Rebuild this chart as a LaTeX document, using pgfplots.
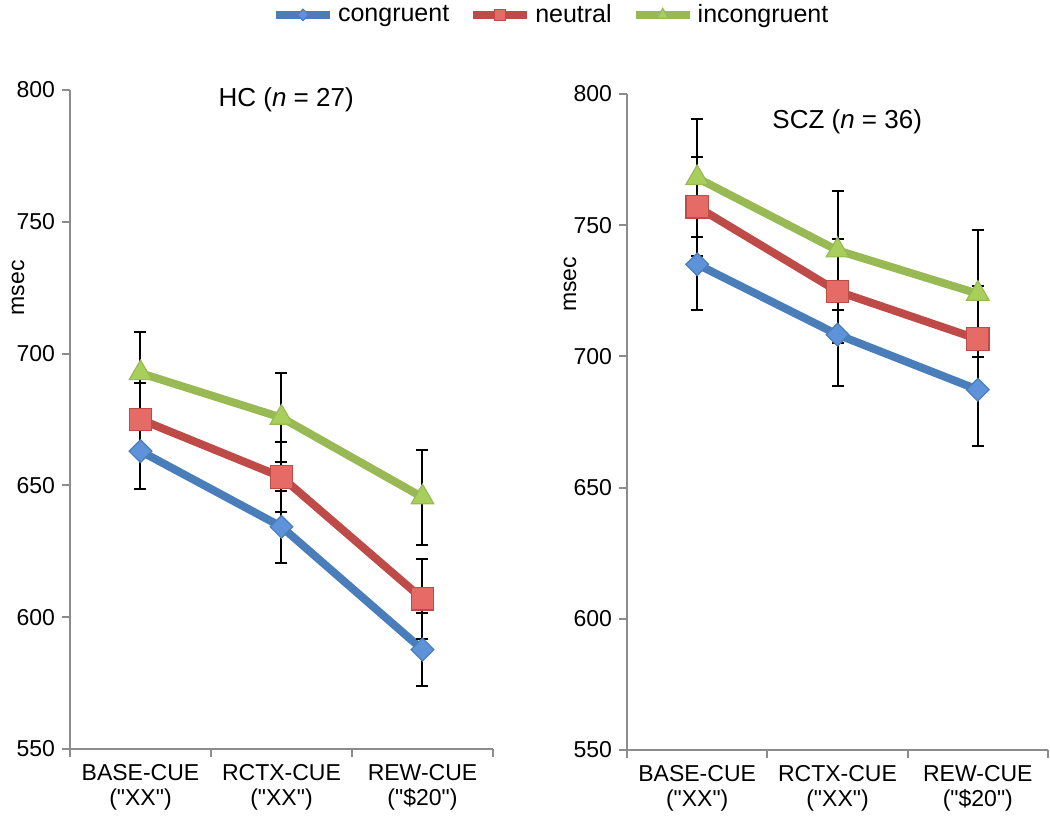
\documentclass[border=0pt]{standalone}
\usepackage{fontspec}
\setmainfont{Liberation Sans}
\usepackage{pgfplots}
\usepackage{pgfplotstable}
\pgfplotsset{compat=1.18}
\definecolor{cblueL}{HTML}{4A7EBB}
\definecolor{cblueF}{HTML}{5E93D9}
\definecolor{credL}{HTML}{BE4B48}
\definecolor{credF}{HTML}{E66B67}
\definecolor{cgreenL}{HTML}{98B954}
\definecolor{cgreenF}{HTML}{A8CF5C}
\definecolor{axgray}{HTML}{8C8C8C}

\pgfplotstableread{
x y e
0 663.0 14.4
1 634.3 13.7
2 587.7 13.8
}\hcCon
\pgfplotstableread{
x y e
0 675.0 14.0
1 653.2 13.4
2 607.0 15.2
}\hcNeu
\pgfplotstableread{
x y e
0 692.6 15.5
1 675.7 17.0
2 645.5 18.0
}\hcInc
\pgfplotstableread{
x y e
0 735.1 17.5
1 708.3 19.4
2 687.3 21.4
}\szCon
\pgfplotstableread{
x y e
0 757.0 18.8
1 724.8 19.8
2 706.6 20.4
}\szNeu
\pgfplotstableread{
x y e
0 768.0 22.5
1 740.4 22.7
2 723.9 24.1
}\szInc

\pgfplotsset{
  panel/.style={
    scale only axis,
    xmin=-0.5, xmax=2.5, ymin=550, ymax=800,
    ytick={550,600,...,800},
    xtick={0,1,2},
    xticklabels={{BASE-CUE\\(\textquotedbl XX\textquotedbl)},{RCTX-CUE\\(\textquotedbl XX\textquotedbl)},{REW-CUE\\(\textquotedbl\$20\textquotedbl)}},
    minor xtick={-0.5,0.5,1.5,2.5},
    axis x line*=bottom, axis y line*=left,
    axis line style={draw=axgray, line width=1pt, -},
    tick align=outside,
    major tick length=4pt, minor tick length=4pt,
    xtick style={draw=none},
    minor x tick style={draw=axgray, line width=1pt},
    ytick style={draw=axgray, line width=1pt},
    /pgf/number format/assume math mode=true,
    yticklabel style={font=\fontsize{11.5}{13}\selectfont},
    xticklabel style={align=center, font=\fontsize{11.5}{12.5}\selectfont},
    ylabel={msec},
    ylabel style={font=\fontsize{11.5}{13}\selectfont, anchor=center},
    every axis title shift=0pt,
    title style={anchor=center, yshift=0pt, font=\fontsize{13}{15}\selectfont},
    clip=false,
    error bars/y dir=both, error bars/y explicit,
    error bars/error bar style={black, line width=1pt, solid},
    error bars/error mark options={black, line width=1pt, mark size=3pt, rotate=90},
    legend image code/.code={
      \draw[#1, every mark/.append style={scale=0.5}, mark repeat=2, mark phase=2]
        plot coordinates {(0pt,0pt) (13.5pt,0pt) (27pt,0pt)};
    },
  },
  con/.style={color=cblueL, line width=4pt, mark=square*, mark size=4pt,
    mark options={rotate=45, fill=cblueF, draw=cblueL, line width=0.6pt, solid}},
  neu/.style={color=credL, line width=4pt, mark=square*, mark size=5.6pt,
    mark options={fill=credF, draw=credL, line width=0.6pt, solid}},
  inc/.style={color=cgreenL, line width=4pt, mark=triangle*, mark size=6.5pt,
    mark options={fill=cgreenF, draw=cgreenL, line width=0.6pt, solid}},
}

\begin{document}
\begin{tikzpicture}
\useasboundingbox (0,0) rectangle (525pt,409.5pt);
\begin{axis}[panel,
  at={(35pt,35pt)}, anchor=south west,
  width=211.5pt, height=329.5pt,
  title={HC (\textit{n} = 27)},
  title style={at={(0.511,0.985)}},
  ylabel style={at={(-0.123,0.70)}},
  legend style={at={(1.14,1.114)}, anchor=center, draw=none, fill=none,
    legend columns=3, font=\fontsize{12.5}{14}\selectfont,
    /tikz/every even column/.append style={column sep=8pt}},
]
\addplot[con] table[x=x,y=y,y error=e] {\hcCon};
\addlegendentry{congruent}
\addplot[neu] table[x=x,y=y,y error=e] {\hcNeu};
\addlegendentry{neutral}
\addplot[inc] table[x=x,y=y,y error=e] {\hcInc};
\addlegendentry{incongruent}
\end{axis}
\begin{axis}[panel,
  at={(313.5pt,34.5pt)}, anchor=south west,
  width=210.5pt, height=328pt,
  title={SCZ (\textit{n} = 36)},
  title style={at={(0.523,0.957)}},
  ylabel style={at={(-0.135,0.71)}},
]
\addplot[con] table[x=x,y=y,y error=e] {\szCon};
\addplot[neu] table[x=x,y=y,y error=e] {\szNeu};
\addplot[inc] table[x=x,y=y,y error=e] {\szInc};
\end{axis}
\end{tikzpicture}
\end{document}
